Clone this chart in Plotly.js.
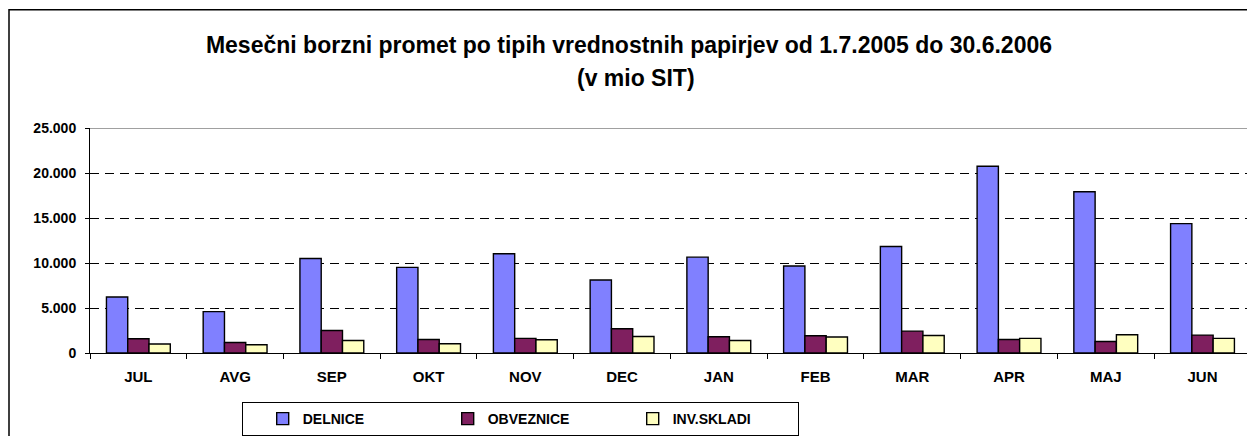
<!DOCTYPE html>
<html>
<head>
<meta charset="utf-8">
<script src="https://cdn.plot.ly/plotly-3.0.1.min.js"></script>
<style>
html,body{margin:0;padding:0;background:#fff;}
#chart{width:1247px;height:436px;}
</style>
</head>
<body>
<div id="chart"></div>
<script>
// Data
var months = ["JUL","AVG","SEP","OKT","NOV","DEC","JAN","FEB","MAR","APR","MAJ","JUN"];
var delnice    = [6230, 4600, 10500, 9510, 11020, 8110, 10650, 9660, 11830, 20750, 17920, 14380];
var obveznice  = [1580, 1170, 2500, 1500, 1620, 2690, 1800, 1910, 2430, 1500, 1280, 1990];
var invskladi  = [1000, 920, 1390, 1030, 1470, 1840, 1390, 1770, 1950, 1620, 2020, 1620];
var seriesNames = ["DELNICE", "OBVEZNICE", "INV.SKLADI"];
var titleLine1 = "Mesečni borzni promet po tipih vrednostnih papirjev od 1.7.2005 do 30.6.2006";
var titleLine2 = "(v mio SIT)";

var FONT = "Liberation Sans, Arial, sans-serif";
var colors = ["#8080ff", "#7f1f5f", "#ffffc0"];
var values = [delnice, obveznice, invskladi];

var traces = values.map(function(v, i){
  return {
    type: "bar",
    x: months,
    y: v,
    name: seriesNames[i],
    marker: {color: colors[i], line: {color: "#000", width: 1.4}},
    hoverinfo: "x+y+name"
  };
});

var layout = {
  width: 1247, height: 436,
  margin: {l: 90, r: 0, t: 128, b: 82, pad: 0},
  paper_bgcolor: "#fff", plot_bgcolor: "#fff",
  separators: ",.",
  barmode: "group", bargap: 0.34, bargroupgap: 0,
  font: {family: FONT, color: "#000"},
  title: {
    text: titleLine1,
    font: {family: FONT, size: 23, weight: "bold", color: "#000"},
    xref: "container", x: 0.5044, xanchor: "center",
    yref: "container", y: 1 - 44.5/436, yanchor: "middle"
  },
  annotations: [{
    text: titleLine2, showarrow: false,
    xref: "paper", x: (636 - 90)/1157, xanchor: "center",
    yref: "paper", y: (354.3 - 77.5)/226.3, yanchor: "middle",
    font: {family: FONT, size: 23, weight: "bold", color: "#000"}
  }],
  xaxis: {
    type: "category",
    range: [-0.5, 11.46],
    showline: true, linecolor: "#000", linewidth: 1,
    ticks: "outside", tickson: "boundaries", ticklen: 5, tickcolor: "#000",
    tickfont: {family: FONT, size: 15, weight: "bold", color: "#000"},
    ticklabelstandoff: 10,
    showgrid: false, zeroline: false, fixedrange: true
  },
  yaxis: {
    range: [0, 25000], dtick: 5000, tick0: 0,
    tickformat: ",d",
    showline: true, linecolor: "#000", linewidth: 1,
    ticks: "outside", ticklen: 4, tickcolor: "#000",
    tickfont: {family: FONT, size: 14, weight: "bold", color: "#000"},
    ticklabelstandoff: 6,
    showgrid: true, gridcolor: "#000", gridwidth: 1, griddash: "9px,6px",
    zeroline: false, fixedrange: true
  },
  legend: {
    orientation: "h",
    x: (241.7 - 90)/1157, xanchor: "left",
    y: (354.3 - 404)/226.3, yanchor: "top",
    bordercolor: "#000", borderwidth: 1, bgcolor: "#fff",
    font: {family: FONT, size: 14, weight: "bold", color: "#000"},
    entrywidth: 120, entrywidthmode: "pixels",
    indentation: 20,
    itemclick: false, itemdoubleclick: false
  },
  shapes: [
    {type: "line", xref: "paper", yref: "y", x0: 0, x1: 1, y0: 25000, y1: 25000,
     line: {color: "#808080", width: 1.5}, layer: "above"},
    {type: "rect", xref: "paper", yref: "paper",
     x0: (9 - 90)/1157, x1: 1.05, y0: -0.6, y1: (354.3 - 9)/226.3,
     line: {color: "#000", width: 1.5}, layer: "below"}
  ],
  showlegend: true
};

Plotly.newPlot("chart", traces, layout, {displayModeBar: false, staticPlot: true});
</script>
</body>
</html>
